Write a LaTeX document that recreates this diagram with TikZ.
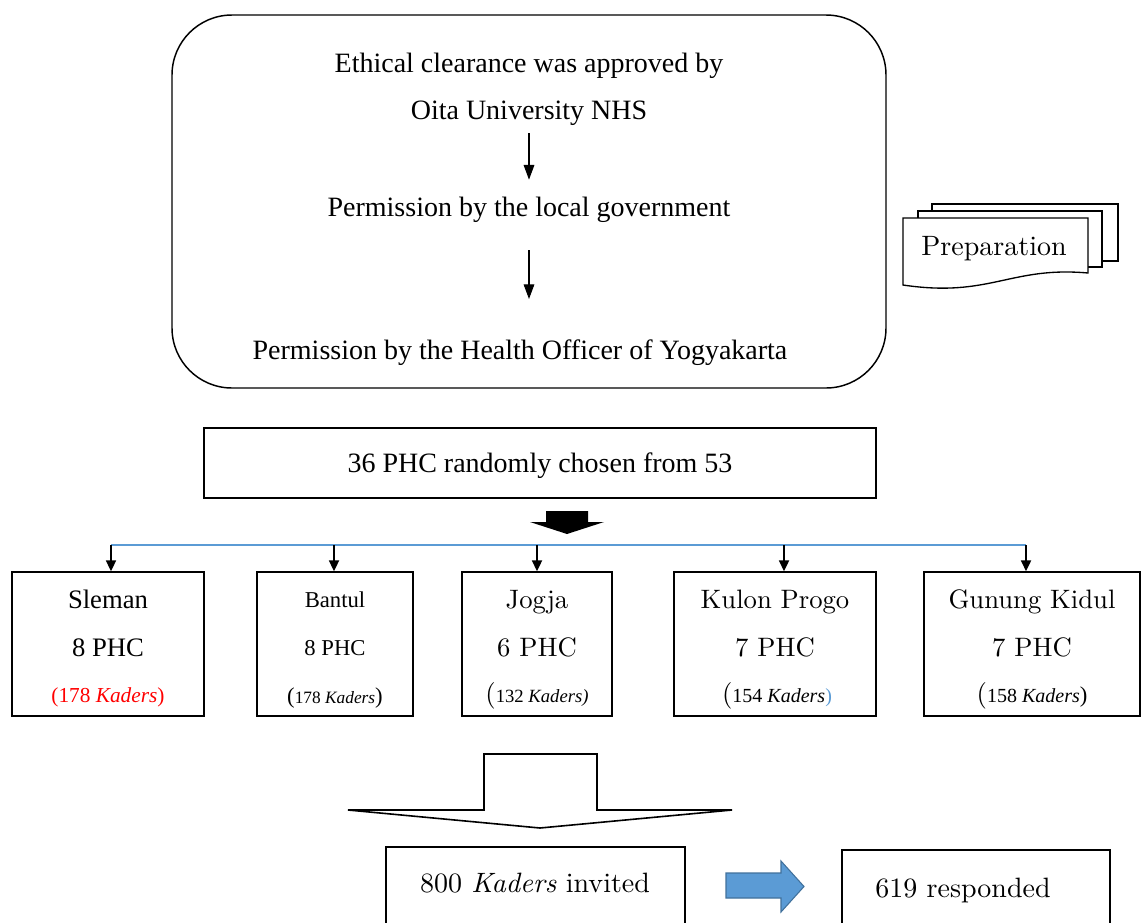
\documentclass[tikz,border=0pt]{standalone}
\usepackage{fontspec}
\usepackage{xcolor}
\usepackage{tikz}
\newfontfamily\tnr{Liberation Serif}
\newfontfamily\cent[ItalicFont=lmroman10-italic.otf]{lmroman10-regular.otf}
\definecolor{officeblue}{RGB}{91,155,213}
\definecolor{officeblueline}{RGB}{65,113,156}
\newcommand\pxu{0.75pt}
\usetikzlibrary{arrows.meta}

\tikzset{
	basetext/.style={anchor=base, inner sep=0pt},
	tnrtext/.style={basetext, font=\tnr\fontsize{21}{25}\selectfont},
	lmtext/.style={basetext, font=\cent\fontsize{21}{25}\selectfont},
	cbox/.style={draw, rectangle, line width=1.3pt, inner sep=0pt},
	flowarrow/.style={-{Triangle[length=11pt,width=8pt]}, line width=0.8pt},
	droparrow/.style={-{Triangle[length=8pt,width=7.5pt]}, line width=1.3pt},
}

\begin{document}
\begin{tikzpicture}[x=0.75pt, y=-0.75pt]
	\clip (0,0) rectangle (1143,922);
	\fill[white] (0,0) rectangle (1143,922);
	
	% approvals
	\node[draw, rectangle, rounded corners=45pt, line width=1.1pt, minimum width=714*\pxu, minimum height=373*\pxu] (approval) at (529,201.5) {};
	
	\node[tnrtext] (ethic) at (529,72) {Ethical clearance was approved by};
	
	\node[tnrtext] (oita) at (529,119) {Oita University NHS};
	
	\node[tnrtext] (local) at (529,216) {Permission by the local government};
	
	\node[tnrtext] (health) at (520,359) {Permission by the Health Officer of Yogyakarta};
	
	\draw[flowarrow, shorten <=6pt, shorten >=12.5pt] (oita.south) -- (oita.south |- local.north);
	
	\draw[flowarrow, shorten <=21pt, shorten >=30pt] (local.south) -- (local.south |- health.north);
	
	% preparation (multiple documents)
	\draw[fill=white, line width=1pt] (932,204) rectangle (1118,261);
	\draw[fill=white, line width=1pt] (918,211) rectangle (1102,267);
	\draw[fill=white, line width=1pt] (903,218) -- (1088,218) -- (1088,273) .. controls (1010,266) and (990,298) .. (903,285) -- cycle;
	
	\node[lmtext] (prep) at (994,255) {Preparation};
	
	% sampling
	\node[cbox, line width=1.1pt, minimum width=672*\pxu, minimum height=70*\pxu] (phc) at (540,463) {};
	
	\node[tnrtext] (phctext) at (540,472) {36 PHC randomly chosen from 53};
	
	\fill (546,511) -- (588,511) -- (588,522) -- (604,522) -- (567,534) -- (530,522) -- (546,522) -- cycle;
	
	% districts
	\node[cbox, minimum width=192*\pxu, minimum height=144*\pxu] (sleman) at (108,644) {};
	\node[basetext, font=\tnr\fontsize{20}{24}\selectfont] at (108,608) {Sleman};
	\node[basetext, font=\tnr\fontsize{20}{24}\selectfont] at (108,656) {8 PHC};
	\node[basetext, font=\tnr\fontsize{16}{20}\selectfont, text=red] at (108,702) {(178 \textit{Kaders})};
	
	\node[cbox, minimum width=156*\pxu, minimum height=144*\pxu] (bantul) at (335,644) {};
	\node[basetext, font=\tnr\fontsize{17}{20}\selectfont] at (335,607) {Bantul};
	\node[basetext, font=\tnr\fontsize{17}{20}\selectfont] at (335,655) {8 PHC};
	\node[basetext, font=\tnr\fontsize{17}{20}\selectfont] at (335,703) {({\fontsize{13}{16}\selectfont 178 \textit{Kaders}})};
	
	\node[cbox, minimum width=150*\pxu, minimum height=144*\pxu] (jogja) at (537,644) {};
	\node[basetext, font=\cent\fontsize{20}{24}\selectfont] at (537,608) {Jogja};
	\node[basetext, font=\cent\fontsize{20}{24}\selectfont] at (537,656) {6 PHC};
	\node[basetext, font=\cent\fontsize{20}{24}\selectfont] at (537,702) {({\tnr\fontsize{14}{17}\selectfont 132 \textit{Kaders)}}};
	
	\node[cbox, minimum width=202*\pxu, minimum height=144*\pxu] (kulon) at (775,644) {};
	\node[basetext, font=\cent\fontsize{20}{24}\selectfont] at (775,608) {Kulon Progo};
	\node[basetext, font=\cent\fontsize{20}{24}\selectfont] at (775,656) {7 PHC};
	\node[basetext, font=\cent\fontsize{20}{24}\selectfont] at (777,702) {({\tnr\fontsize{15}{18}\selectfont 154 \textit{Kaders}\textcolor{officeblue}{)}}};
	
	\node[cbox, minimum width=216*\pxu, minimum height=144*\pxu] (gunung) at (1032,644) {};
	\node[basetext, font=\cent\fontsize{20}{24}\selectfont] at (1032,608) {Gunung Kidul};
	\node[basetext, font=\cent\fontsize{20}{24}\selectfont] at (1032,656) {7 PHC};
	\node[basetext, font=\cent\fontsize{20}{24}\selectfont] at (1032,702) {({\tnr\fontsize{15}{18}\selectfont 158 \textit{Kaders}{\fontsize{17}{20}\selectfont)}}};
	
	\coordinate (b1) at (111,545);
	\coordinate (b2) at (334,545);
	\coordinate (b3) at (537,545);
	\coordinate (b4) at (784,545);
	\coordinate (b5) at (1026,545);
	
	\draw[officeblue, line width=0.8pt] (b1) -- (b5);
	
	\draw[droparrow] (b1) -- (b1 |- sleman.north);
	\draw[droparrow] (b2) -- (b2 |- bantul.north);
	\draw[droparrow] (b3) -- (b3 |- jogja.north);
	\draw[droparrow] (b4) -- (b4 |- kulon.north);
	\draw[droparrow] (b5) -- (b5 |- gunung.north);
	
	% outcome
	\draw[line width=1.2pt] (484,754) -- (597,754) -- (597,810) -- (732,810) -- (540,828) -- (348,810) -- (484,810) -- cycle;
	
	\node[cbox, line width=0.9pt, minimum width=299*\pxu, minimum height=112*\pxu] (invited) at (535.5,903) {};
	\node[lmtext] (invitedtext) at (535,892) {800 \textit{Kaders} invited};
	
	\node[cbox, line width=0.9pt, minimum width=268*\pxu, minimum height=112*\pxu] (responded) at (976,906) {};
	\node[lmtext] (respondedtext) at (963,897) {619 responded};
	
	\draw[fill=officeblue, draw=officeblueline, line width=0.8pt] (726,873) -- (781,873) -- (781,861) -- (804,886.5) -- (781,912) -- (781,898) -- (726,898) -- cycle;
\end{tikzpicture}
\end{document}
